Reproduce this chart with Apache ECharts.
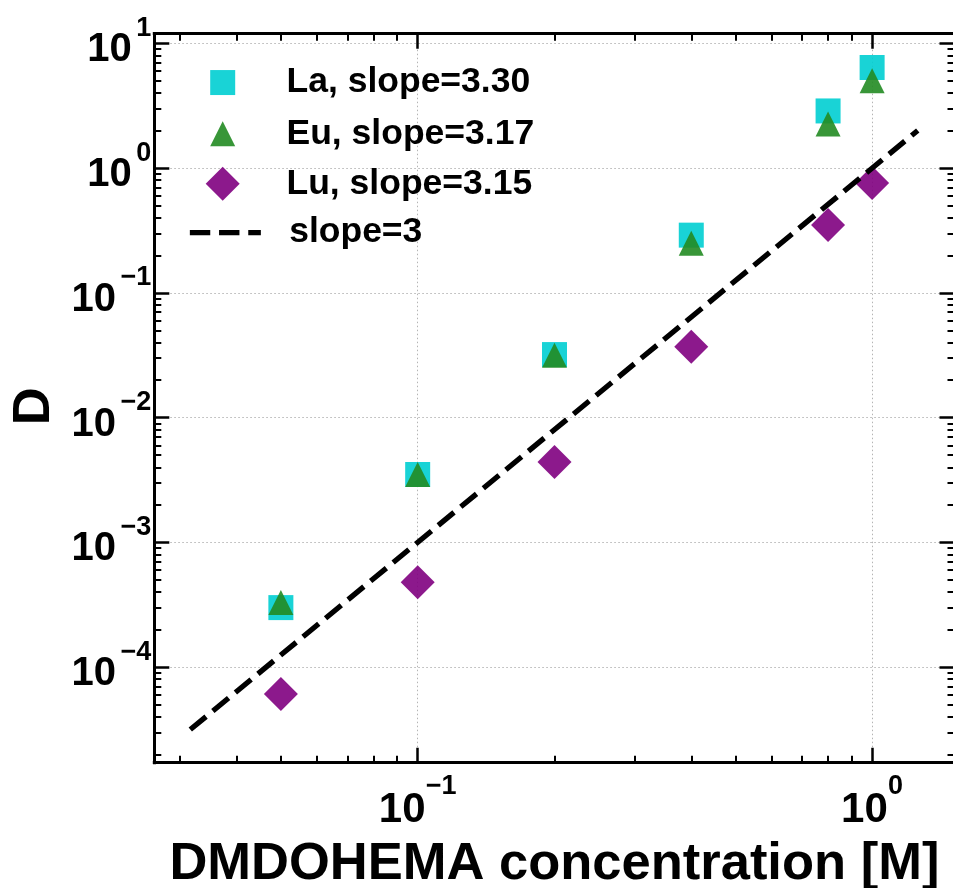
<!DOCTYPE html>
<html><head><meta charset="utf-8">
<script src="https://cdn.jsdelivr.net/npm/echarts@6/dist/echarts.min.js"></script>
<style>html,body{margin:0;padding:0;background:#fff}#c{width:953px;height:888px}</style>
</head><body><div id="c"></div>
<script>
// ---- data ----
const concentrations = [0.05, 0.1, 0.2, 0.4, 0.8, 1.0];
const dLa = [3.0e-4, 3.5e-3, 0.032, 0.29, 2.87, 6.4];
const dEu = [3.3e-4, 3.5e-3, 0.0316, 0.25, 2.26, 5.0];
const dLu = [6.1e-5, 4.8e-4, 4.4e-3, 0.037, 0.35, 0.76];
const refLineX = [0.0316, 1.26];
const refLineY = [3.16e-5, 2.0];
const seriesNames = ['La, slope=3.30', 'Eu, slope=3.17', 'Lu, slope=3.15', 'slope=3'];
const xTitle = 'DMDOHEMA concentration [M]';
const yTitle = 'D';
// ---- tick values ----
const xMajorTicks = [0.1, 1];
const xMinorTicks = [0.03, 0.04, 0.05, 0.06, 0.07, 0.08, 0.09, 0.2, 0.3, 0.4, 0.5, 0.6, 0.7, 0.8, 0.9];
const yMajorTicks = [1e-4, 1e-3, 1e-2, 1e-1, 1, 10];
const yMinorTicks = [2e-5, 3e-5, 4e-5, 5e-5, 6e-5, 7e-5, 8e-5, 9e-5,
  2e-4, 3e-4, 4e-4, 5e-4, 6e-4, 7e-4, 8e-4, 9e-4,
  2e-3, 3e-3, 4e-3, 5e-3, 6e-3, 7e-3, 8e-3, 9e-3,
  0.02, 0.03, 0.04, 0.05, 0.06, 0.07, 0.08, 0.09,
  0.2, 0.3, 0.4, 0.5, 0.6, 0.7, 0.8, 0.9,
  2, 3, 4, 5, 6, 7, 8, 9];
const xRange = [0.02633, 1.518];
const yRange = [1.714e-5, 11.94];

const FONT = '"Liberation Sans", Arial, Helvetica, sans-serif';
const colors = ['#00CED1', '#228B22', '#800080', '#000'];

function powLabel(v) {
  const e = Math.round(Math.log10(v));
  const s = e < 0 ? '\u2212' + (-e) : '' + e;
  return '{w| }{s|' + s + '}\n{b|10}';
}
function makeRich(bSize, spacer, l1, l2) {
  return {
    w: {fontSize: 10, width: spacer, lineHeight: l1, align: 'left'},
    s: {fontSize: 27, fontWeight: 'bold', fontFamily: FONT, color: '#000', lineHeight: l1, align: 'left'},
    b: {fontSize: bSize, fontWeight: 'bold', fontFamily: FONT, color: '#000', lineHeight: l2, align: 'left'}
  };
}

function axisCfg(kind, position, ticks, tickLen, tickWidth, labels, split, line) {
  const range = kind === 'x' ? xRange : yRange;
  const major = kind === 'x' ? xMajorTicks : yMajorTicks;
  return {
    type: 'log', logBase: 10, position: position, min: range[0], max: range[1],
    axisLine: {show: !!line, lineStyle: {color: '#000', width: 3, cap: 'square'}},
    axisTick: {show: true, inside: true, length: tickLen, customValues: ticks, lineStyle: {color: '#000', width: tickWidth}},
    axisLabel: labels ? {show: true, customValues: major, formatter: powLabel,
      rich: kind === 'x' ? makeRich(42, 47, 14, 34) : makeRich(40, 49, 14, 30),
      margin: kind === 'x' ? 17 : 3} : {show: false},
    splitLine: {show: split, lineStyle: {color: '#b4b4b4', width: 1, type: [1.5, 2.5]}},
    minorTick: {show: false}, minorSplitLine: {show: false}
  };
}

const xAxes = [
  axisCfg('x', 'bottom', xMajorTicks, 15, 2.5, true, true, true),
  axisCfg('x', 'bottom', xMinorTicks, 7, 2, false, false, false),
  axisCfg('x', 'top', xMajorTicks, 15, 2.5, false, false, true),
  axisCfg('x', 'top', xMinorTicks, 7, 2, false, false, false)
];
xAxes[0].name = xTitle;
xAxes[0].nameLocation = 'middle';
xAxes[0].nameGap = 75;
xAxes[0].nameTextStyle = {fontSize: 52.5, fontWeight: 'bold', fontFamily: FONT, color: '#000'};

const yAxes = [
  axisCfg('y', 'left', yMajorTicks, 15, 2.5, true, true, true),
  axisCfg('y', 'left', yMinorTicks, 7, 2, false, false, false),
  axisCfg('y', 'right', yMajorTicks, 15, 2.5, false, false, false),
  axisCfg('y', 'right', yMinorTicks, 7, 2, false, false, false)
];
yAxes[0].name = yTitle;
yAxes[0].nameLocation = 'middle';
yAxes[0].nameGap = 89;
yAxes[0].nameTextStyle = {fontSize: 52.5, fontWeight: 'bold', fontFamily: FONT, color: '#000', padding: [0, 16, 0, 0]};

const LEG_FS = 35.5;
function legendCfg(i, centerY, iconW, iconH, extra) {
  const iconCenterX = 222.7, textX = 286.5;
  const left = iconCenterX - iconW / 2;
  return Object.assign({
    data: [seriesNames[i]], orient: 'vertical', left: left, top: centerY - LEG_FS / 2,
    padding: 0, itemWidth: iconW, itemHeight: iconH, selectedMode: false,
    textStyle: {fontSize: LEG_FS, fontWeight: 'bold', fontFamily: FONT, color: '#000',
      padding: [0, 0, 0, textX - (left + iconW + 5)]}
  }, extra || {});
}

const option = {
  animation: false,
  backgroundColor: '#fff',
  grid: {left: 154.3, top: 33.7, width: 800.2, height: 729, show: false,
    containLabel: false, outerBoundsMode: 'none'},
  xAxis: xAxes,
  yAxis: yAxes,
  legend: [
    legendCfg(0, 82.3, 25, 25),
    legendCfg(1, 133.5, 25, 25),
    legendCfg(2, 183.5, 34, 34),
    legendCfg(3, 232.3, 71, 14, {itemStyle: {opacity: 0},
      lineStyle: {color: '#000', width: 5.3, type: [20.4, 8.8], cap: 'butt'}})
  ],
  series: [
    {name: seriesNames[0], type: 'scatter', symbol: 'rect', symbolSize: 25, z: 2,
      itemStyle: {color: colors[0], opacity: 0.9}, emphasis: {disabled: true},
      data: concentrations.map((c, i) => [c, dLa[i]])},
    {name: seriesNames[1], type: 'scatter', symbol: 'triangle', symbolSize: 25, z: 3,
      itemStyle: {color: colors[1], opacity: 0.9}, emphasis: {disabled: true},
      data: concentrations.map((c, i) => [c, dEu[i]])},
    {name: seriesNames[2], type: 'scatter', symbol: 'diamond', symbolSize: 34, z: 4,
      itemStyle: {color: colors[2], opacity: 0.9}, emphasis: {disabled: true},
      data: concentrations.map((c, i) => [c, dLu[i]])},
    {name: seriesNames[3], type: 'line', symbol: 'none', z: 5, emphasis: {disabled: true},
      itemStyle: {color: colors[3]},
      lineStyle: {color: colors[3], width: 5.3, type: [20.4, 8.8]},
      data: refLineX.map((x, i) => [x, refLineY[i]])}
  ]
};
const chart = echarts.init(document.getElementById('c'), null, {renderer: 'canvas'});
chart.setOption(option);
</script></body></html>
